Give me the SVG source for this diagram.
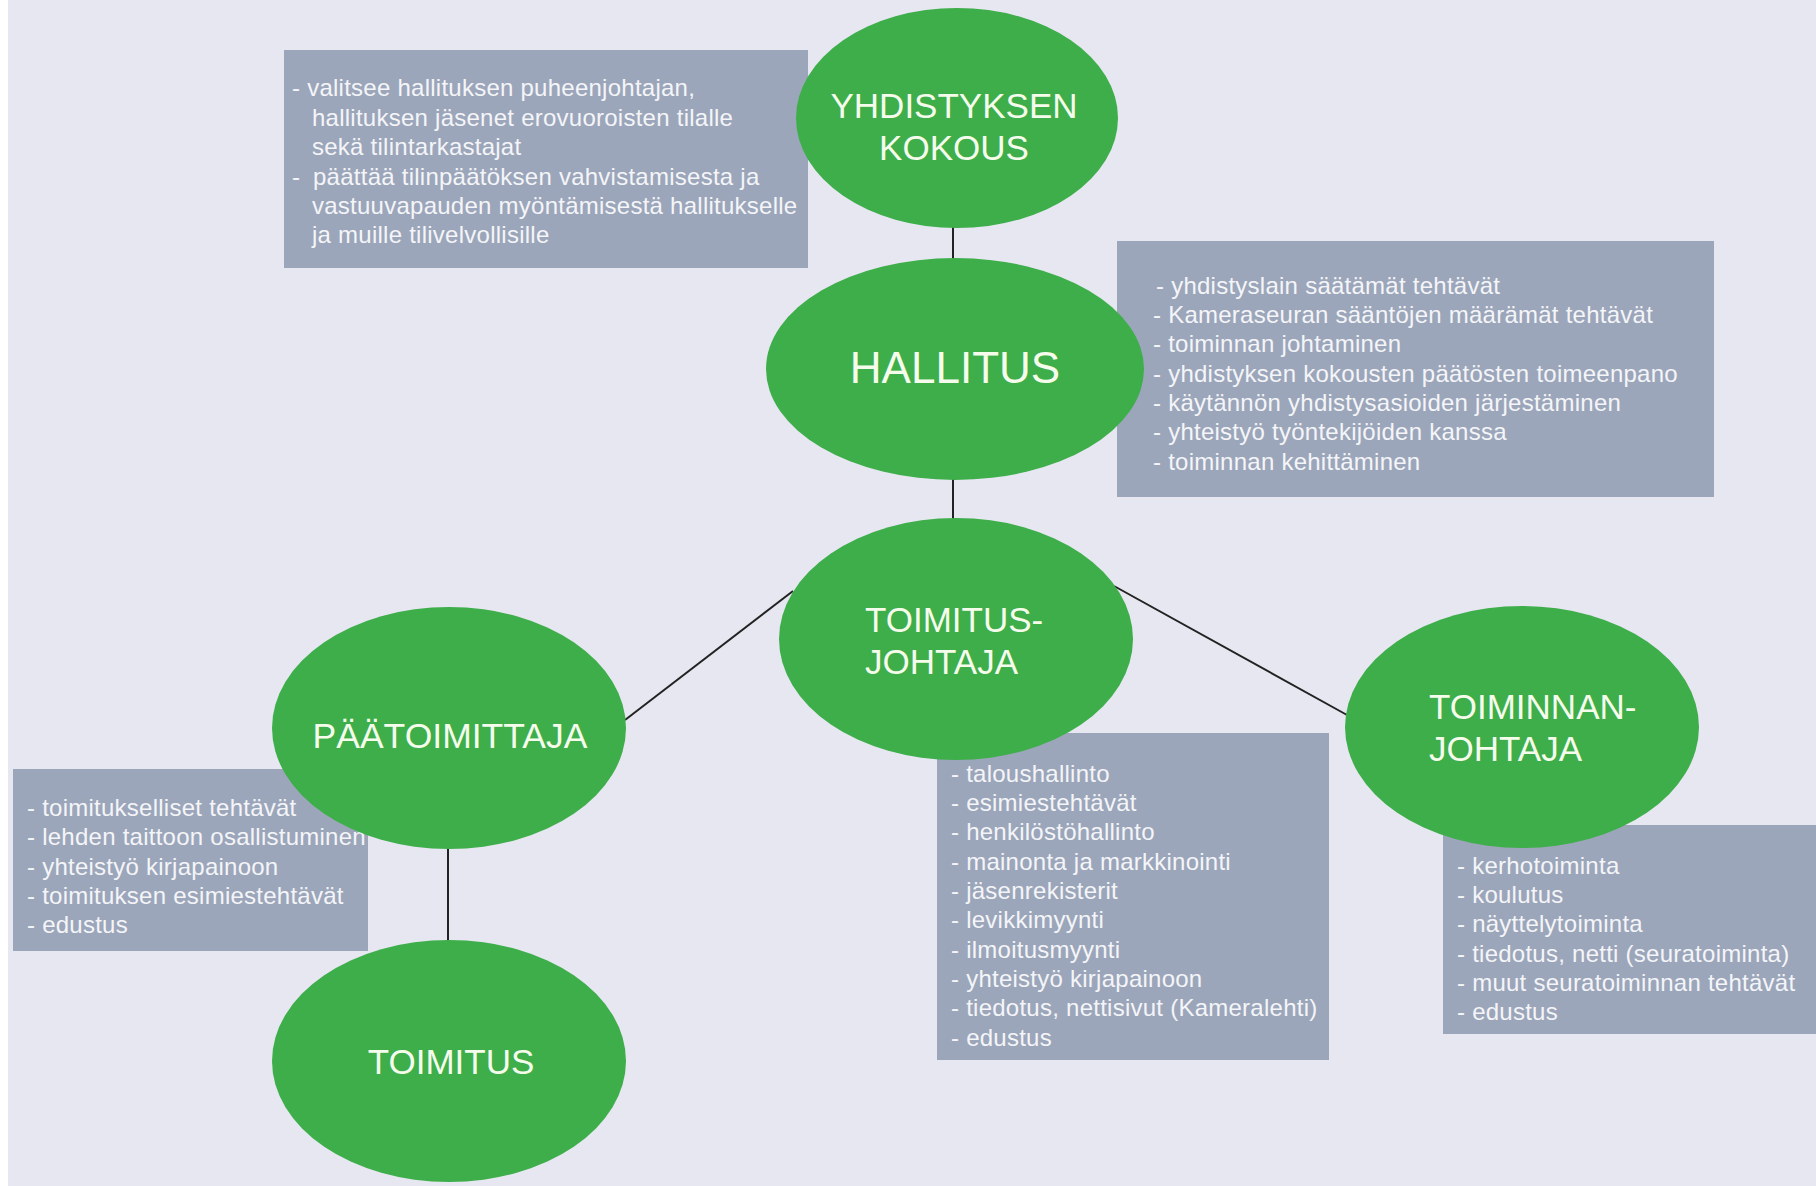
<svg xmlns="http://www.w3.org/2000/svg" width="1816" height="1186" viewBox="0 0 1816 1186">
  <style>
    .bg { fill: #e7e7f2; }
    .box { fill: #9ca6ba; }
    .node { fill: #3dae4a; }
    .conn { stroke: #222222; stroke-width: 2; fill: none; }
    .boxtext { font-family: "Liberation Sans", Arial, sans-serif; font-size: 24px; letter-spacing: 0.25px; fill: #f4f5f8; }
    .label { font-family: "Liberation Sans", Arial, sans-serif; font-size: 35px; fill: #f6fcec; }
  </style>
  <rect x="0" y="0" width="1816" height="1186" fill="#ffffff"/>
  <rect class="bg" x="8" y="0" width="1808" height="1186"/>

  <g id="connectors">
    <line class="conn" x1="953" y1="226" x2="953" y2="260"/>
    <line class="conn" x1="953" y1="478" x2="953" y2="520"/>
    <line class="conn" x1="793" y1="591" x2="625" y2="720"/>
    <line class="conn" x1="1114" y1="586" x2="1347" y2="715"/>
    <line class="conn" x1="448" y1="847" x2="448" y2="941"/>
  </g>

  <g id="box-yhdistyksen-kokous">
    <rect class="box" x="284" y="50" width="524" height="218"/>
    <text class="boxtext" x="292" y="96">- valitsee hallituksen puheenjohtajan,</text>
    <text class="boxtext" x="312" y="126">hallituksen jäsenet erovuoroisten tilalle</text>
    <text class="boxtext" x="312" y="155">sekä tilintarkastajat</text>
    <text class="boxtext" x="292" y="185">-</text>
    <text class="boxtext" x="313" y="185">päättää tilinpäätöksen vahvistamisesta ja</text>
    <text class="boxtext" x="312" y="214">vastuuvapauden myöntämisestä hallitukselle</text>
    <text class="boxtext" x="312" y="243">ja muille tilivelvollisille</text>
  </g>

  <g id="box-hallitus">
    <rect class="box" x="1117" y="241" width="597" height="256"/>
    <text class="boxtext" x="1156" y="294">- yhdistyslain säätämät tehtävät</text>
    <text class="boxtext" x="1153" y="323">- Kameraseuran sääntöjen määrämät tehtävät</text>
    <text class="boxtext" x="1153" y="352">- toiminnan johtaminen</text>
    <text class="boxtext" x="1153" y="382">- yhdistyksen kokousten päätösten toimeenpano</text>
    <text class="boxtext" x="1153" y="411">- käytännön yhdistysasioiden järjestäminen</text>
    <text class="boxtext" x="1153" y="440">- yhteistyö työntekijöiden kanssa</text>
    <text class="boxtext" x="1153" y="470">- toiminnan kehittäminen</text>
  </g>

  <g id="box-paatoimittaja">
    <rect class="box" x="13" y="769" width="355" height="182"/>
    <text class="boxtext" x="27" y="816">- toimitukselliset tehtävät</text>
    <text class="boxtext" x="27" y="845">- lehden taittoon osallistuminen</text>
    <text class="boxtext" x="27" y="875">- yhteistyö kirjapainoon</text>
    <text class="boxtext" x="27" y="904">- toimituksen esimiestehtävät</text>
    <text class="boxtext" x="27" y="933">- edustus</text>
  </g>

  <g id="box-toimitusjohtaja">
    <rect class="box" x="937" y="733" width="392" height="327"/>
    <text class="boxtext" x="951" y="782">- taloushallinto</text>
    <text class="boxtext" x="951" y="811">- esimiestehtävät</text>
    <text class="boxtext" x="951" y="840">- henkilöstöhallinto</text>
    <text class="boxtext" x="951" y="870">- mainonta ja markkinointi</text>
    <text class="boxtext" x="951" y="899">- jäsenrekisterit</text>
    <text class="boxtext" x="951" y="928">- levikkimyynti</text>
    <text class="boxtext" x="951" y="958">- ilmoitusmyynti</text>
    <text class="boxtext" x="951" y="987">- yhteistyö kirjapainoon</text>
    <text class="boxtext" x="951" y="1016">- tiedotus, nettisivut (Kameralehti)</text>
    <text class="boxtext" x="951" y="1046">- edustus</text>
  </g>

  <g id="box-toiminnanjohtaja">
    <rect class="box" x="1443" y="825" width="373" height="209"/>
    <text class="boxtext" x="1457" y="874">- kerhotoiminta</text>
    <text class="boxtext" x="1457" y="903">- koulutus</text>
    <text class="boxtext" x="1457" y="932">- näyttelytoiminta</text>
    <text class="boxtext" x="1457" y="962">- tiedotus, netti (seuratoiminta)</text>
    <text class="boxtext" x="1457" y="991">- muut seuratoiminnan tehtävät</text>
    <text class="boxtext" x="1457" y="1020">- edustus</text>
  </g>

  <g id="node-yhdistyksen-kokous">
    <ellipse class="node" cx="957" cy="118" rx="161" ry="110"/>
    <text class="label" x="954" y="118" text-anchor="middle">YHDISTYKSEN</text>
    <text class="label" x="954" y="160" text-anchor="middle">KOKOUS</text>
  </g>

  <g id="node-hallitus">
    <ellipse class="node" cx="955" cy="369" rx="189" ry="111"/>
    <text class="label" x="955" y="383" text-anchor="middle" style="font-size:44px">HALLITUS</text>
  </g>

  <g id="node-toimitusjohtaja">
    <ellipse class="node" cx="956" cy="639" rx="177" ry="121"/>
    <text class="label" x="865" y="632">TOIMITUS-</text>
    <text class="label" x="865" y="674">JOHTAJA</text>
  </g>

  <g id="node-paatoimittaja">
    <ellipse class="node" cx="449" cy="728" rx="177" ry="121"/>
    <text class="label" x="450" y="748" text-anchor="middle" style="font-size:35.5px">PÄÄTOIMITTAJA</text>
  </g>

  <g id="node-toimitus">
    <ellipse class="node" cx="449" cy="1061" rx="177" ry="121"/>
    <text class="label" x="451" y="1074" text-anchor="middle">TOIMITUS</text>
  </g>

  <g id="node-toiminnanjohtaja">
    <ellipse class="node" cx="1522" cy="727" rx="177" ry="121"/>
    <text class="label" x="1429" y="719">TOIMINNAN-</text>
    <text class="label" x="1429" y="761">JOHTAJA</text>
  </g>
</svg>
